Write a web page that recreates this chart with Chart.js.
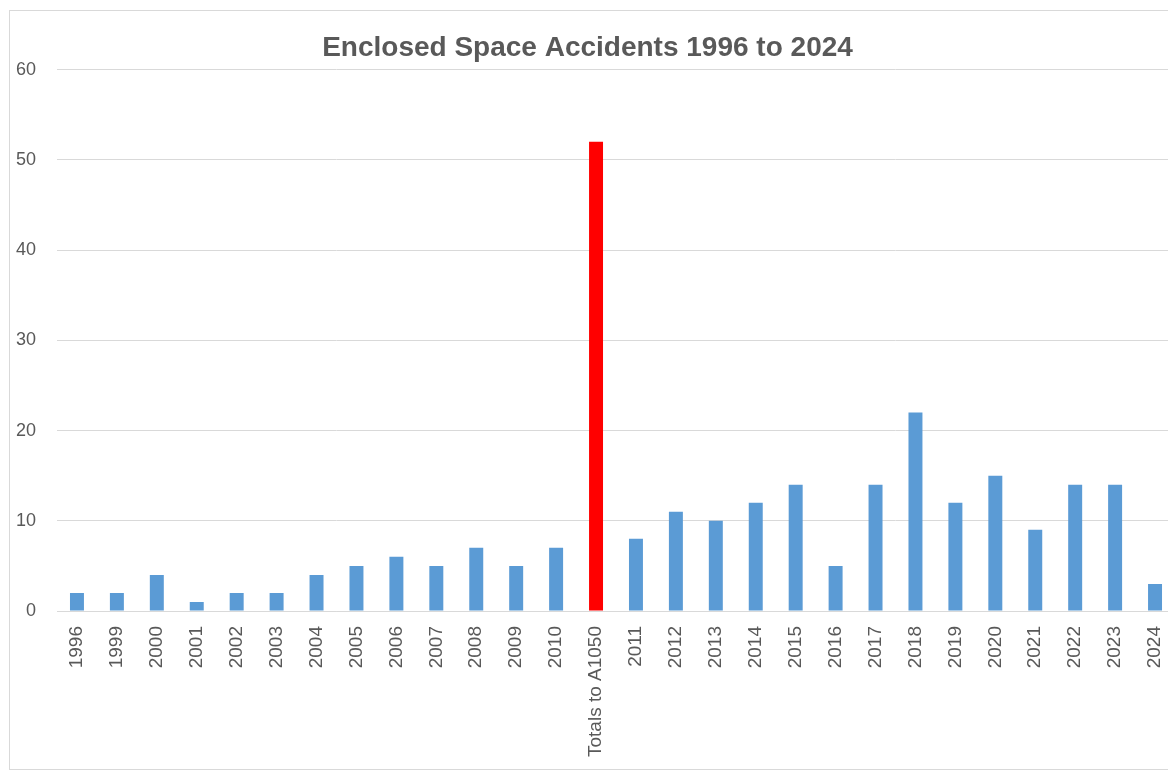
<!DOCTYPE html>
<html>
<head>
<meta charset="utf-8">
<script src="https://cdn.jsdelivr.net/npm/chart.js@4/dist/chart.umd.min.js"></script>
<style>
  html, body { margin: 0; padding: 0; background: #fff; overflow: hidden; }
  #frame { position: absolute; left: 9px; top: 10px; width: 1200px; height: 760px;
           border: 1px solid #d9d9d9; border-right: none; box-sizing: border-box; }
  #accidentsChart { position: absolute; left: 0; top: 0; }
</style>
</head>
<body>
<div id="frame"></div>
<canvas id="accidentsChart" width="1182" height="775"></canvas>
<script>
// Categories (years, plus the pre-A1050 total)
var categories = [
    "1996", "1999", "2000", "2001", "2002", "2003", "2004", "2005", "2006",
    "2007", "2008", "2009", "2010", "Totals to A1050", "2011", "2012", "2013",
    "2014", "2015", "2016", "2017", "2018", "2019", "2020", "2021", "2022",
    "2023", "2024"
];

// Number of accidents per category
var accidents = [
    2, 2, 4, 1, 2, 2, 4, 5, 6,
    5, 7, 5, 7, 52, 8, 11, 10,
    12, 14, 5, 14, 22, 12, 15, 9, 14,
    14, 3
];

var yTicks = [0, 10, 20, 30, 40, 50, 60];

// Totals bar is highlighted in red
var barColors = categories.map(c => c === "Totals to A1050" ? '#ff0000' : '#5b9bd5');

var ctx = document.getElementById('accidentsChart').getContext('2d');
var accidentsChart = new Chart(ctx, {
    type: 'bar',
    data: {
        labels: categories,
        datasets: [{
            data: accidents,
            backgroundColor: barColors,
            barPercentage: 0.35,
            categoryPercentage: 1.0
        }]
    },
    options: {
        responsive: false,
        devicePixelRatio: 1,
        animation: false,
        layout: { padding: { left: 0, right: 7, top: 0, bottom: 0 } },
        scales: {
            x: {
                grid: { display: false, drawTicks: false },
                border: { display: true, color: '#d9d9d9' },
                ticks: {
                    color: '#595959',
                    font: { family: 'Liberation Sans', size: 19 },
                    minRotation: 90,
                    maxRotation: 90,
                    autoSkip: false,
                    padding: 15
                },
                afterFit: function (scale) {
                    scale.height = 164;
                    scale.paddingLeft = 0;
                    scale.paddingRight = 0;
                }
            },
            y: {
                min: 0,
                max: 60,
                afterBuildTicks: function (scale) {
                    scale.ticks = yTicks.map(v => ({ value: v }));
                },
                grid: { color: '#d9d9d9', drawTicks: false },
                border: { display: false },
                ticks: {
                    color: '#595959',
                    font: { family: 'Liberation Sans', size: 18 },
                    padding: 21
                },
                afterFit: function (scale) { scale.width = 57; }
            }
        },
        plugins: {
            legend: { display: false },
            tooltip: { enabled: false },
            title: {
                display: true,
                text: 'Enclosed Space Accidents 1996 to 2024',
                color: '#595959',
                font: { family: 'Liberation Sans', size: 28, weight: 'bold' },
                padding: { top: 31, bottom: 5 }
            }
        }
    }
});
</script>
</body>
</html>
